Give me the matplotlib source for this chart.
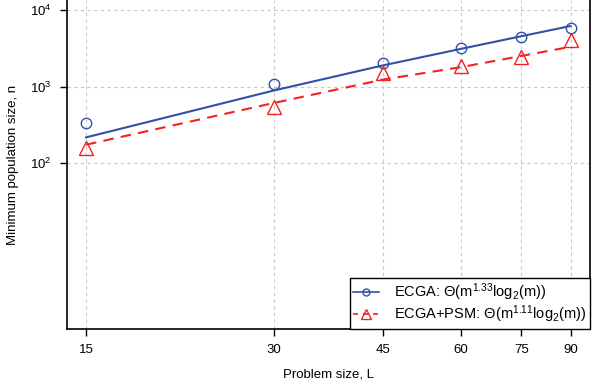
import numpy as np
import matplotlib
matplotlib.use("Agg")
import matplotlib.pyplot as plt
from matplotlib.lines import Line2D

plt.rcParams['font.family'] = ['Liberation Sans', 'DejaVu Sans']
plt.rcParams['mathtext.default'] = 'regular'

# data
L = [15, 30, 45, 60, 75, 90]
ecga_n = [339, 1084, 2018, 3170, 4500, 5780]
psm_n = [157, 538, 1496, 1880, 2420, 4075]
# fitted curves, read at the same L
ecga_fit = [218, 890, 1900, 3120, 4560, 6200]
psm_fit = [175, 612, 1240, 1800, 2520, 3320]

ecga_label = r'ECGA: $\Theta$(m$^{1.33}$log$_2$(m))'
psm_label = r'ECGA+PSM: $\Theta$(m$^{1.11}$log$_2$(m))'

blue = '#2f52a8'
red = '#f52020'

fig = plt.figure(figsize=(5.98, 3.87), dpi=100)
ax = fig.add_axes([0.1115, 0.1499, 0.8751, 0.8501])

ax.plot(L, ecga_fit, color=blue, lw=1.5)
ax.plot(L, psm_fit, color=red, lw=1.5, ls=(0, (5, 3.5)))
ax.plot(L, ecga_n, ls='none', marker='o', ms=7.5, mfc='none', mec=blue, mew=1.0)
ax.plot(L, psm_n, ls='none', marker='^', ms=9.5, mfc='none', mec=red, mew=1.0)

ax.set_xscale('log')
ax.set_yscale('log')
ax.set_xlim(13.96, 96.7)
ax.set_ylim(0.687, 10 ** 4.132)

ax.xaxis.set_major_locator(matplotlib.ticker.FixedLocator(L))
ax.xaxis.set_major_formatter(matplotlib.ticker.FixedFormatter([str(v) for v in L]))
ax.xaxis.set_minor_locator(matplotlib.ticker.NullLocator())
yt = [1e2, 1e3, 1e4]
ax.yaxis.set_major_locator(matplotlib.ticker.FixedLocator(yt))
ax.yaxis.set_major_formatter(matplotlib.ticker.FixedFormatter([r'$10^{2}$', r'$10^{3}$', r'$10^{4}$']))
ax.yaxis.set_minor_locator(matplotlib.ticker.NullLocator())

ax.grid(True, color='#c8c8c8', ls=(0, (3, 3)), lw=0.8)
ax.tick_params(direction='out', length=5, width=1, labelsize=9.5, pad=6)
for s in ['left', 'bottom', 'right']:
    ax.spines[s].set_linewidth(1.2)
ax.spines['top'].set_visible(False)

ax.set_xlabel('Problem size, L', fontsize=9.5, labelpad=9)
ax.set_ylabel('Minimum population size, n', fontsize=9.5, labelpad=8)

handles = [
    Line2D([], [], color=blue, lw=1.2, marker='o', ms=5, mfc='none', mec=blue),
    Line2D([], [], color=red, lw=1.2, ls=(0, (3, 3)), marker='^', ms=6.5, mfc='none', mec=red),
]
leg = ax.legend(handles, [ecga_label, psm_label], loc='lower right', fontsize=10.5,
                frameon=True, fancybox=False, edgecolor='black', framealpha=1,
                borderaxespad=0, handlelength=1.8, handletextpad=1.0,
                borderpad=0.25, labelspacing=0.05)
leg.get_frame().set_linewidth(1.0)

fig.savefig('out.png', dpi=100)
